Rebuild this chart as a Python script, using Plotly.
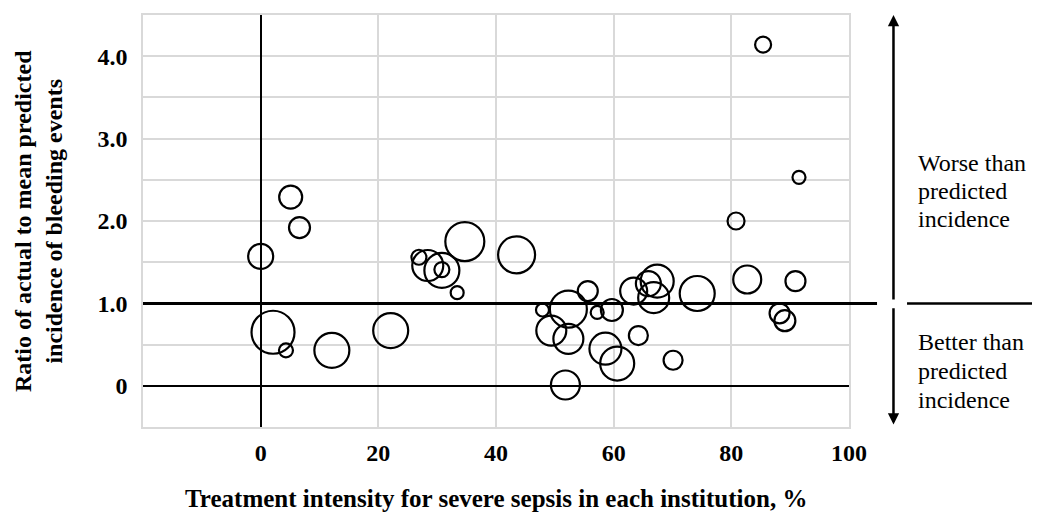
import plotly.graph_objects as go

# ---- data ----
treatment_intensity = [0, 5.1, 6.6, 2.1, 4.3, 12.1, 22.1, 26.9, 28.4, 30.8, 30.8, 33.4, 34.7,
                       43.5, 47.9, 52.3, 55.6, 57.2, 59.7, 49.4, 52.3, 58.6, 60.6, 51.8, 64.2,
                       70.1, 63.4, 65.9, 67.4, 66.8, 74.2, 82.7, 90.9, 88.2, 89.1, 80.8, 91.5, 85.4]
ratio = [1.57, 2.29, 1.92, 0.65, 0.43, 0.43, 0.67, 1.56, 1.46, 1.40, 1.41, 1.13, 1.75,
         1.59, 0.92, 0.93, 1.15, 0.89, 0.92, 0.67, 0.57, 0.45, 0.27, 0.01, 0.61,
         0.31, 1.15, 1.24, 1.27, 1.07, 1.12, 1.29, 1.27, 0.88, 0.79, 2.00, 2.53, 4.14]
bubble_size = [25, 23, 21, 43, 14, 35, 35, 15, 31, 35, 15, 13, 39,
               37, 13, 37, 20, 13, 22, 30, 30, 32, 34, 29, 19,
               19, 27, 25, 33, 31, 35, 28, 20, 20, 21, 17, 13, 16]

x_tick_vals = [0, 20, 40, 60, 80, 100]
x_tick_text = ["0", "20", "40", "60", "80", "100"]
y_tick_vals = [0, 1, 2, 3, 4]
y_tick_text = ["0", "1.0", "2.0", "3.0", "4.0"]
reference_ratio = 1.0

x_title = "Treatment intensity for severe sepsis in each institution, %"
y_title = "Ratio of actual to mean predicted<br>incidence of bleeding events"
worse_lines = ["Worse than", "predicted", "incidence"]
better_lines = ["Better than", "predicted", "incidence"]

FONT = "Liberation Serif"
GRID = "#d9d9d9"

fig = go.Figure()
fig.add_trace(go.Scatter(
    x=treatment_intensity, y=ratio, mode="markers",
    marker=dict(size=bubble_size, sizemode="diameter", color="rgba(0,0,0,0)",
                opacity=1, line=dict(color="#000000", width=2.2)),
    hoverinfo="x+y", showlegend=False, cliponaxis=False,
))

# the page body has an 8px margin, so the figure is 8px smaller on each axis
fig.update_layout(
    width=1032, height=508, autosize=False,
    margin=dict(l=135, r=191, t=5, b=89),
    paper_bgcolor="white", plot_bgcolor="white",
    font=dict(family=FONT, color="black"),
    xaxis=dict(range=[-20, 100], tickvals=x_tick_vals, ticktext=x_tick_text,
               showgrid=True, gridcolor=GRID, gridwidth=1.5,
               showline=True, linecolor=GRID, linewidth=1.5, mirror=True,
               zeroline=True, zerolinecolor="black", zerolinewidth=1.5,
               ticks="", ticklabelstandoff=3,
               tickfont=dict(family=FONT, size=24, color="black", weight="bold")),
    yaxis=dict(range=[-0.5, 4.5], tickvals=y_tick_vals, ticktext=y_tick_text,
               showgrid=True, gridcolor=GRID, gridwidth=1.5,
               minor=dict(dtick=0.5, showgrid=True, gridcolor=GRID, gridwidth=1.5),
               showline=True, linecolor=GRID, linewidth=1.5, mirror=True,
               zeroline=True, zerolinecolor="black", zerolinewidth=1.5,
               ticks="", ticklabelstandoff=9,
               tickfont=dict(family=FONT, size=24, color="black", weight="bold")),
)

# reference line at ratio 1.0 (extends past the plot, with a gap at the arrow)
fig.add_shape(type="line", xref="paper", yref="y", x0=0, x1=1.0397,
              y0=reference_ratio, y1=reference_ratio, line=dict(color="black", width=3))
fig.add_shape(type="line", xref="paper", yref="y", x0=1.0822, x1=1.30,
              y0=reference_ratio, y1=reference_ratio, line=dict(color="black", width=2.5))

# double arrow on the right
arrow_x = 1.0630
fig.add_annotation(xref="paper", yref="y", x=arrow_x, y=4.5, axref="pixel", ayref="y",
                   ax=0, ay=reference_ratio + 0.03, showarrow=True, arrowhead=2,
                   arrowsize=0.9, arrowwidth=2.5, arrowcolor="black", text="")
fig.add_annotation(xref="paper", yref="y", x=arrow_x, y=-0.47, axref="pixel", ayref="y",
                   ax=0, ay=reference_ratio - 0.04, showarrow=True, arrowhead=2,
                   arrowsize=0.9, arrowwidth=2.5, arrowcolor="black", text="")

# side texts
for line, yy in zip(worse_lines, [2.71, 2.37, 2.03]):
    fig.add_annotation(xref="paper", yref="y", x=1.0950, y=yy, xanchor="left",
                       yanchor="middle", showarrow=False, text=line,
                       font=dict(family=FONT, size=24, color="black"))
for line, yy in zip(better_lines, [0.53, 0.18, -0.17]):
    fig.add_annotation(xref="paper", yref="y", x=1.0950, y=yy, xanchor="left",
                       yanchor="middle", showarrow=False, text=line,
                       font=dict(family=FONT, size=24, color="black"))

# axis titles
fig.add_annotation(xref="paper", yref="paper", x=0.5, y=-0.1740, xanchor="center",
                   yanchor="middle", showarrow=False, text="<b>" + x_title + "</b>",
                   font=dict(family=FONT, size=25, color="black"))
fig.add_annotation(xref="paper", yref="paper", x=-0.1487, y=0.5, xanchor="center",
                   yanchor="middle", showarrow=False, textangle=-90,
                   text="<b>" + y_title + "</b>",
                   font=dict(family=FONT, size=24, color="black"))

fig.write_html("out.html")
